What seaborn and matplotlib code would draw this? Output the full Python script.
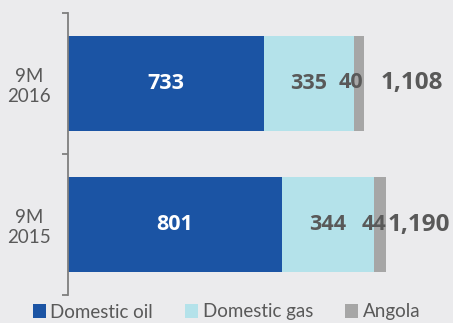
import matplotlib
matplotlib.use("Agg")
import matplotlib.pyplot as plt
import seaborn as sns
import numpy as np
import pandas as pd
from matplotlib.patches import Patch

categories = ["9M\n2016", "9M\n2015"]
domestic_oil = [733, 801]
domestic_gas = [335, 344]
angola = [40, 44]
totals = ["1,108", "1,190"]
series_names = ["Domestic oil", "Domestic gas", "Angola"]

BG = "#EBEBED"
C_OIL = "#1B54A4"
C_GAS = "#B4E2EA"
C_ANG = "#A6A6A6"
TXT = "#595959"
BOLD_FONT = ['Open Sans', 'DejaVu Sans']

sns.set_theme(style="white")
plt.rcParams['font.family'] = ['Lato', 'DejaVu Sans']

fig = plt.figure(figsize=(4.53, 3.23), dpi=100, facecolor=BG)
ax = fig.add_axes([68/453, 1-295/323, 1-68/453, (295-13)/323])
ax.set_facecolor(BG)

oil = np.array(domestic_oil)
gas = np.array(domestic_gas)
ang = np.array(angola)
df = pd.DataFrame({"cat": categories, "oil": oil, "og": oil + gas, "all": oil + gas + ang})

for col, color in [("all", C_ANG), ("og", C_GAS), ("oil", C_OIL)]:
    sns.barplot(data=df, x=col, y="cat", orient="h", color=color, width=0.67,
                saturation=1, ax=ax, edgecolor="none", linewidth=0)

ax.set_xlim(0, 1440)
ax.set_ylim(1.5, -0.5)
ax.set_xlabel("")
ax.set_ylabel("")
ax.set_xticks([])

# labels
ang_shift = [-8, -6]      # pixel nudges for small segment labels
total_pad = [11.5, 1.5]   # points
for i in range(len(categories)):
    ax.text(oil[i] / 2, i, str(oil[i]), ha="center", va="center", color="white",
            fontsize=15.5, fontweight="bold", family=BOLD_FONT)
    ax.text(oil[i] + gas[i] / 2, i, str(gas[i]), ha="center", va="center", color=TXT,
            fontsize=15.5, fontweight="bold", family=BOLD_FONT)
    ax.annotate(str(ang[i]), (oil[i] + gas[i] + ang[i] / 2, i), xytext=(ang_shift[i] * 0.72, 1 if i == 0 else 0),
                textcoords="offset points", ha="center", va="center", color=TXT,
                fontsize=15.5, fontweight="bold", family=BOLD_FONT)
    end = oil[i] + gas[i] + ang[i]
    ax.annotate(totals[i], (end, i), xytext=(total_pad[i], 0), textcoords="offset points",
                ha="left", va="center", color=TXT, fontsize=17.5, fontweight="bold", family=BOLD_FONT)

for s in ["top", "right", "bottom"]:
    ax.spines[s].set_visible(False)
ax.spines["left"].set_color("#7F7F7F")
ax.spines["left"].set_linewidth(1.3)

ax.set_yticks([0, 1])
ax.set_yticklabels(categories, ha="center", color=TXT, fontsize=13.5)
ax.tick_params(axis="y", which="major", length=0, pad=28)
ax.set_yticks([-0.5, 0.5, 1.5], minor=True)
ax.tick_params(axis="y", which="minor", length=4.5, width=1.3, color="#7F7F7F", direction="out", left=True)

handles = [Patch(facecolor=c, edgecolor="none") for c in [C_OIL, C_GAS, C_ANG]]
leg = fig.legend(handles, series_names, loc="center", bbox_to_anchor=(0.5, 1 - 312/323), ncol=3,
                 frameon=False, fontsize=13.5, handlelength=0.7, handleheight=0.7,
                 handletextpad=0.25, columnspacing=1.7, labelcolor=TXT)

fig.savefig("out.png", dpi=100, facecolor=BG)
